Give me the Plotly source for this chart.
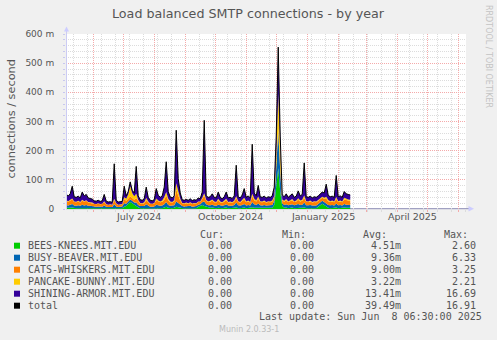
import pandas as pd
import numpy as np
import plotly.graph_objects as go

# Daily averages sampled every second day from 4 May 2024, in milli-connections/s
sample_start = "2024-05-04 12:00"
n_samples = 143

bees_knees = [
    4, 3, 4, 5, 3, 3, 3, 3, 4, 3,
    4, 3, 3, 2, 2, 2, 2, 2, 2, 3,
    2, 2, 2, 2, 4, 2, 2, 2, 3, 8,
    10, 18, 24, 20, 14, 10, 6, 3, 3, 3,
    5, 3, 2, 2, 2, 4, 3, 3, 3, 5,
    8, 4, 3, 3, 4, 8, 6, 4, 3, 2,
    3, 2, 3, 2, 3, 3, 8, 10, 14, 10,
    8, 4, 4, 5, 3, 3, 4, 3, 3, 4,
    5, 3, 3, 3, 4, 6, 3, 3, 4, 5,
    3, 4, 3, 6, 4, 4, 5, 3, 3, 4,
    3, 3, 3, 4, 14, 70, 140, 60, 10, 4,
    5, 3, 4, 5, 3, 4, 5, 4, 4, 6,
    3, 3, 4, 3, 3, 3, 8, 14, 18, 14,
    8, 4, 3, 4, 3, 5, 3, 4, 3, 5,
    4, 4, 4,
]
busy_beaver = [
    10, 9, 11, 12, 9, 8, 10, 8, 11, 9,
    10, 8, 8, 8, 6, 6, 7, 6, 6, 9,
    6, 5, 6, 5, 12, 7, 5, 6, 6, 12,
    8, 8, 9, 8, 8, 12, 8, 7, 6, 7,
    11, 8, 6, 6, 7, 11, 9, 8, 9, 11,
    16, 10, 8, 8, 9, 18, 14, 10, 7, 7,
    7, 7, 8, 6, 7, 7, 7, 6, 9, 16,
    8, 9, 9, 10, 9, 8, 11, 9, 8, 9,
    11, 9, 9, 8, 10, 16, 10, 9, 10, 12,
    9, 10, 9, 18, 12, 10, 14, 10, 9, 10,
    9, 10, 9, 10, 14, 60, 125, 70, 10, 10,
    11, 10, 10, 11, 10, 10, 12, 10, 11, 16,
    10, 10, 10, 9, 10, 9, 9, 9, 10, 10,
    12, 10, 10, 10, 9, 14, 10, 10, 9, 12,
    11, 11, 10,
]
cats_whiskers = [
    14, 13, 14, 16, 12, 12, 13, 11, 14, 13,
    14, 11, 10, 10, 9, 8, 9, 8, 9, 12,
    8, 7, 7, 7, 14, 9, 7, 7, 7, 14,
    10, 10, 11, 10, 10, 16, 12, 9, 9, 10,
    14, 12, 9, 9, 10, 15, 13, 12, 13, 16,
    22, 15, 12, 11, 13, 40, 26, 15, 9, 9,
    10, 9, 10, 9, 9, 8, 9, 8, 11, 20,
    12, 11, 12, 14, 11, 11, 15, 11, 10, 12,
    14, 10, 11, 10, 12, 16, 11, 10, 13, 16,
    11, 12, 10, 20, 14, 12, 16, 11, 11, 12,
    10, 11, 11, 12, 12, 8, 10, 6, 10, 11,
    14, 11, 12, 14, 11, 12, 15, 12, 13, 16,
    11, 11, 12, 10, 11, 11, 11, 10, 11, 11,
    16, 13, 11, 12, 11, 16, 11, 12, 11, 16,
    15, 14, 14,
]
pancake_bunny = [
    2, 2, 3, 3, 2, 2, 2, 2, 3, 2,
    2, 2, 2, 2, 1, 1, 2, 1, 1, 3,
    1, 1, 1, 1, 5, 2, 1, 1, 1, 6,
    7, 14, 34, 16, 12, 14, 5, 2, 2, 3,
    8, 3, 2, 1, 2, 6, 4, 3, 4, 8,
    12, 6, 3, 2, 4, 22, 14, 6, 2, 2,
    2, 2, 2, 2, 2, 2, 2, 2, 4, 8,
    3, 2, 3, 4, 3, 2, 5, 3, 2, 3,
    5, 2, 3, 2, 3, 6, 3, 2, 4, 6,
    3, 3, 2, 8, 5, 3, 8, 3, 3, 3,
    2, 3, 3, 3, 5, 40, 120, 70, 3, 3,
    4, 2, 3, 4, 2, 3, 5, 3, 4, 8,
    3, 2, 3, 2, 3, 3, 3, 3, 3, 4,
    6, 4, 3, 3, 3, 6, 3, 3, 3, 6,
    5, 4, 4,
]
shining_armor = [
    20, 18, 20, 42, 16, 15, 16, 14, 26, 18,
    20, 14, 13, 12, 10, 10, 10, 9, 10, 23,
    10, 9, 9, 8, 120, 10, 9, 9, 9, 38,
    10, 10, 15, 10, 11, 94, 14, 11, 10, 12,
    37, 14, 11, 10, 11, 34, 18, 14, 16, 35,
    104, 25, 15, 14, 15, 182, 44, 20, 11, 10,
    11, 10, 12, 10, 11, 10, 12, 9, 20, 250,
    14, 14, 14, 19, 14, 14, 23, 14, 12, 14,
    23, 14, 14, 13, 16, 106, 15, 14, 17, 31,
    14, 16, 14, 170, 20, 16, 38, 15, 14, 15,
    14, 15, 14, 16, 30, 72, 160, 44, 15, 14,
    18, 14, 16, 18, 14, 15, 25, 16, 18, 112,
    15, 14, 15, 14, 15, 14, 14, 14, 16, 16,
    43, 16, 15, 15, 14, 74, 15, 16, 14, 21,
    17, 17, 16,
]

hosts = ["BEES-KNEES.MIT.EDU", "BUSY-BEAVER.MIT.EDU", "CATS-WHISKERS.MIT.EDU",
         "PANCAKE-BUNNY.MIT.EDU", "SHINING-ARMOR.MIT.EDU"]
host_colors = ["#00CC00", "#0066B3", "#FF8000", "#FFCC00", "#330099"]
series = [bees_knees, busy_beaver, cats_whiskers, pancake_bunny, shining_armor]

legend_names = hosts + ["total"]
legend_colors = host_colors + ["#000000"]
cur_vals = ["0.00", "0.00", "0.00", "0.00", "0.00", "0.00"]
min_vals = ["0.00", "0.00", "0.00", "0.00", "0.00", "0.00"]
avg_vals = ["4.51m", "9.36m", "9.00m", "3.22m", "13.41m", "39.49m"]
max_vals = ["2.60", "6.33", "3.25", "2.21", "16.69", "16.91"]

y_ticks = [0, 100, 200, 300, 400, 500, 600]
y_tick_text = ["0", "100 m", "200 m", "300 m", "400 m", "500 m", "600 m"]
x_label_dates = ["2024-07-16", "2024-10-16", "2025-01-16", "2025-04-16"]
x_label_text = ["July 2024", "October 2024", "January 2025", "April 2025"]
range_start, range_end = "2024-05-04 06:30", "2025-06-08 06:30"

dates = pd.date_range(sample_start, periods=n_samples, freq="2D")
total = np.sum(np.array(series), axis=0)

# canvas geometry (pixels)
W, H = 497, 340
L, R, T, B = 66, 466, 34, 209


def px(x):
    return (x - L) / (R - L)


def py(y):
    return (B - y) / (B - T)


TXT = "#555555"
SANS = "DejaVu Sans"
MONO = "DejaVu Sans Mono"

fig = go.Figure()
for name, col, vals in zip(hosts, host_colors, series):
    fig.add_trace(go.Scatter(
        x=dates, y=vals, name=name, mode="lines", stackgroup="hosts",
        line=dict(width=0, color=col), fillcolor=col, showlegend=False,
    ))
fig.add_trace(go.Scatter(
    x=dates, y=total, name="total", mode="lines",
    line=dict(width=1, color="#000000"), showlegend=False,
))

major = "#F4AAAA"
minor = "#DCDCDC"

fig.update_layout(
    width=W, height=H,
    margin=dict(l=L, r=W - R, t=T, b=H - B, pad=0, autoexpand=False),
    paper_bgcolor="#F0F0F0", plot_bgcolor="#FFFFFF",
    font=dict(family=SANS, color=TXT),
    xaxis=dict(
        type="date", range=[range_start, range_end], automargin=False,
        showticklabels=False, tick0="2024-06-01", dtick="M1",
        showgrid=True, gridcolor=major, griddash="1px,1px", gridwidth=1,
        ticks="outside", ticklen=2, tickcolor=major,
        minor=dict(dtick=14 * 86400000, tick0="2024-05-12", showgrid=True,
                   gridcolor=minor, griddash="1px,1px", ticks="outside",
                   ticklen=2, tickcolor=minor),
        showline=False, zeroline=False, fixedrange=True,
    ),
    yaxis=dict(
        range=[0, 600], tickmode="array", tickvals=y_ticks, ticktext=y_tick_text,
        tickfont=dict(size=9, family=SANS, color=TXT), automargin=False,
        showgrid=True, gridcolor=major, griddash="1px,1px",
        ticks="outside", ticklen=2, tickcolor="#C8C8EE", ticklabelstandoff=7,
        minor=dict(dtick=20, tick0=0, showgrid=True, gridcolor=minor,
                   griddash="1px,1px", ticks="outside", ticklen=2,
                   tickcolor="#C8C8EE"),
        showline=False, zeroline=False, fixedrange=True,
    ),
)

shapes = []
# axes with arrow heads
shapes.append(dict(type="line", xref="paper", yref="paper", layer="below",
                   x0=px(66), x1=px(469), y0=py(208.7), y1=py(208.7),
                   line=dict(color="#8C8CB4", width=1)))
shapes.append(dict(type="line", xref="paper", yref="paper", layer="above",
                   x0=px(66.5), x1=px(66.5), y0=py(209), y1=py(30),
                   line=dict(color="#CCCCF4", width=1)))
shapes.append(dict(type="path", xref="paper", yref="paper", layer="above",
                   path=f"M {px(468.5)},{py(206)} L {px(474)},{py(208.7)} L {px(468.5)},{py(211.4)} Z",
                   fillcolor="#CCCCFF", line=dict(width=0)))
shapes.append(dict(type="path", xref="paper", yref="paper", layer="above",
                   path=f"M {px(64)},{py(31.5)} L {px(66.5)},{py(26.5)} L {px(69)},{py(31.5)} Z",
                   fillcolor="#CCCCFF", line=dict(width=0)))

annotations = []
for d, t in zip(x_label_dates, x_label_text):
    annotations.append(dict(x=d, xref="x", y=py(216), yref="paper", text=t,
                            showarrow=False, xanchor="center", yanchor="middle",
                            borderpad=0, font=dict(size=9.5, family=SANS, color=TXT)))

annotations.append(dict(x=px(248), y=py(13.3), xref="paper", yref="paper",
                        text="Load balanced SMTP connections - by year",
                        showarrow=False, xanchor="center", yanchor="middle", borderpad=0,
                        font=dict(size=12.7, family=SANS, color=TXT)))
annotations.append(dict(x=px(10.5), y=py(119), xref="paper", yref="paper",
                        text="connections / second", textangle=-90,
                        showarrow=False, xanchor="center", yanchor="middle", borderpad=0,
                        font=dict(size=11.3, family=SANS, color=TXT)))
annotations.append(dict(x=px(488.5), y=py(56.5), xref="paper", yref="paper",
                        text="RRDTOOL / TOBI OETIKER", textangle=90,
                        showarrow=False, xanchor="center", yanchor="middle", borderpad=0,
                        font=dict(size=8, family=SANS, color="#C4C4C4")))

# legend table
row0 = 245.7
mono = dict(size=10, family=MONO, color=TXT)
for label, right in [("Cur:", 225), ("Min:", 307.3), ("Avg:", 388.3), ("Max:", 469)]:
    annotations.append(dict(x=px(right), y=py(234), xref="paper", yref="paper", text=label,
                            showarrow=False, xanchor="right", yanchor="middle",
                            borderpad=0, font=mono))
for i, (nm, col) in enumerate(zip(legend_names, legend_colors)):
    yc = row0 + 12 * i
    shapes.append(dict(type="rect", xref="paper", yref="paper", layer="above",
                       x0=px(14), x1=px(20), y0=py(yc + 3), y1=py(yc - 3),
                       fillcolor=col, line=dict(width=0)))
    annotations.append(dict(x=px(26.7), y=py(yc), xref="paper", yref="paper", text=nm,
                            showarrow=False, xanchor="left", yanchor="middle",
                            borderpad=0, font=mono))
    for vals, right in [(cur_vals, 233), (min_vals, 315), (avg_vals, 402.3), (max_vals, 477.3)]:
        annotations.append(dict(x=px(right), y=py(yc), xref="paper", yref="paper",
                                text=vals[i], showarrow=False, xanchor="right",
                                yanchor="middle", borderpad=0, font=mono))

annotations.append(dict(x=px(483.3), y=py(316.7), xref="paper", yref="paper",
                        text="Last update: Sun Jun&nbsp;&nbsp;8 06:30:00 2025",
                        showarrow=False, xanchor="right", yanchor="middle",
                        borderpad=0, font=mono))
annotations.append(dict(x=px(248.5), y=py(329.3), xref="paper", yref="paper",
                        text="Munin 2.0.33-1", showarrow=False, xanchor="center",
                        yanchor="middle", borderpad=0,
                        font=dict(size=8, family=SANS, color="#BBBBBB")))

fig.update_layout(shapes=shapes, annotations=annotations)
fig.write_html("out.html")
